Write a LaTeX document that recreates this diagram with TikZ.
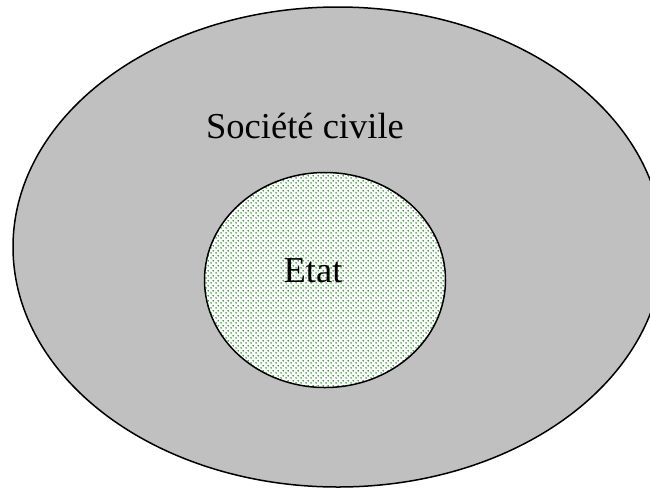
\documentclass[tikz,border=0pt]{standalone}
\usepackage{fontspec}
\setmainfont{Liberation Serif}
\usetikzlibrary{shapes.geometric,patterns.meta}
\definecolor{civgray}{RGB}{192,192,192}
\definecolor{dotgreen}{RGB}{0,128,0}
\tikzdeclarepattern{
  name=greendots,
  type=uncolored,
  bounding box={(0,0) and (5pt,5pt)},
  tile size={(5pt,5pt)},
  code={
    \fill (1.25pt,1.25pt) circle (0.9pt);
    \fill (3.75pt,3.75pt) circle (0.9pt);
  }
}
\tikzset{
  region/.style={ellipse, draw=black, line width=1.5pt, inner sep=0pt},
  label text/.style={anchor=base, text=black, font=\fontsize{36.5}{40}\selectfont, inner sep=0pt}
}
\begin{document}
\begin{tikzpicture}[x=1pt,y=-1pt]
\useasboundingbox (0,0) rectangle (650,488);
\node[region, fill=civgray, minimum width=650pt, minimum height=480pt] (societe) at (338,247) {};
\node[region, preaction={fill=white}, pattern=greendots, pattern color=dotgreen, minimum width=241pt, minimum height=215pt] (etat) at (325,280) {};
\node[label text] (societelabel) at (305,138) {Société civile};
\node[label text] (etatlabel) at (313,282) {Etat};
\end{tikzpicture}
\end{document}
